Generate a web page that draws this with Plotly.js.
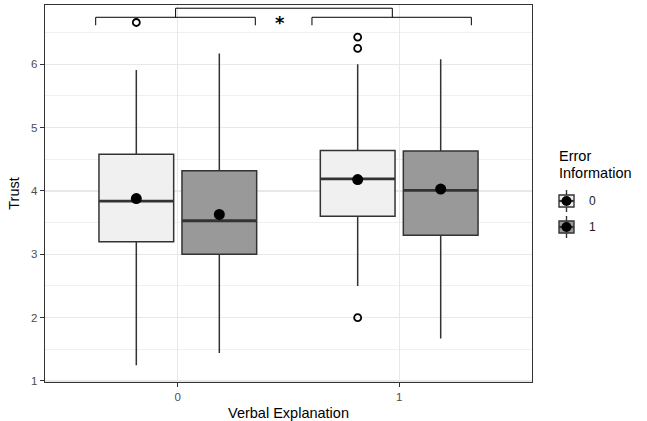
<!DOCTYPE html>
<html>
<head>
<meta charset="utf-8">
<script src="https://cdn.plot.ly/plotly-3.0.1.min.js"></script>
<style>html,body{margin:0;padding:0;background:#fff;}#chart{width:647px;height:421px;}</style>
</head>
<body>
<div id="chart"></div>
<script>
// ---- data ----
var categories = ['0', '1'];            // Verbal Explanation
var errorLevels = ['0', '1'];           // Error Information
var q1E0 = [3.20, 3.60];
var medE0 = [3.84, 4.19];
var q3E0 = [4.58, 4.64];
var loE0 = [1.25, 2.50];
var hiE0 = [5.91, 6.00];
var meanE0 = [3.88, 4.18];
var q1E1 = [3.00, 3.30];
var medE1 = [3.53, 4.01];
var q3E1 = [4.32, 4.63];
var loE1 = [1.44, 1.67];
var hiE1 = [6.17, 6.08];
var meanE1 = [3.63, 4.03];
var outCatE0 = [0, 1, 1, 1];
var outValE0 = [6.66, 6.43, 6.25, 2.00];
var outCatE1 = [];
var outValE1 = [];
// significance brackets (category units / Trust units)
var brX0 = [-0.371, 0.606, -0.01];
var brX1 = [0.350, 1.326, 0.969];
var brBar = [6.742, 6.742, 6.885];
var brTip = [6.616, 6.616, 6.742];
var sigLabel = '*';

// ---- styling constants ----
var dodge = [-0.1875, 0.1875];
var boxW = 0.3375;
var fills = ['#F0F0F0', '#999999'];
var lineCol = '#333333';

var stats = [
  {q1: q1E0, med: medE0, q3: q3E0, lo: loE0, hi: hiE0, mean: meanE0, oc: outCatE0, ov: outValE0},
  {q1: q1E1, med: medE1, q3: q3E1, lo: loE1, hi: hiE1, mean: meanE1, oc: outCatE1, ov: outValE1}
];

var traces = [];
stats.forEach(function (s, g) {
  var pos = categories.map(function (c, i) { return i + dodge[g]; });
  traces.push({
    type: 'box', x: pos, q1: s.q1, median: s.med, q3: s.q3,
    lowerfence: s.lo, upperfence: s.hi, width: boxW,
    fillcolor: fills[g], line: {color: lineCol, width: 1.5},
    whiskerwidth: 0, boxpoints: false, showlegend: false, hoverinfo: 'skip',
    name: errorLevels[g]
  });
  // thicker median lines
  var mx = [], my = [];
  pos.forEach(function (p, i) {
    mx.push(p - boxW / 2, p + boxW / 2, null);
    my.push(s.med[i], s.med[i], null);
  });
  traces.push({type: 'scatter', mode: 'lines', x: mx, y: my,
    line: {color: lineCol, width: 2.8}, showlegend: false, hoverinfo: 'skip'});
  // outliers
  traces.push({type: 'scatter', mode: 'markers',
    x: s.oc.map(function (c) { return c + dodge[g]; }), y: s.ov,
    marker: {symbol: 'circle-open', size: 7, color: '#000', line: {width: 1.8, color: '#000'}},
    showlegend: false, hoverinfo: 'skip'});
  // means
  traces.push({type: 'scatter', mode: 'markers', x: pos, y: s.mean,
    marker: {symbol: 'circle', size: 11, color: '#000'},
    showlegend: false, hoverinfo: 'skip'});
});

var shapes = [];
for (var i = 0; i < brX0.length; i++) {
  shapes.push({type: 'path', xref: 'x', yref: 'y',
    path: 'M' + brX0[i] + ',' + brTip[i] + ' L' + brX0[i] + ',' + brBar[i] +
          ' L' + brX1[i] + ',' + brBar[i] + ' L' + brX1[i] + ',' + brTip[i],
    line: {color: '#000', width: 1}});
}

// manual legend (ggplot style keys)
var L = {xpx: 566.5, ypx: [201, 227]};
var W = 647, H = 421, ml = 45, mr = 115, mt = 5, mb = 39;
function px2x(p) { return (p - ml) / (W - ml - mr); }
function py2y(p) { return (H - mb - p) / (H - mt - mb); }
var annotations = [
  {xref: 'paper', yref: 'paper', x: px2x(557), y: py2y(156), xanchor: 'left', yanchor: 'middle',
   text: 'Error', showarrow: false, font: {size: 14.5, color: '#000'}},
  {xref: 'paper', yref: 'paper', x: px2x(557), y: py2y(173), xanchor: 'left', yanchor: 'middle',
   text: 'Information', showarrow: false, font: {size: 14.5, color: '#000'}},
  {xref: 'x', yref: 'y', x: 0.463, y: 6.86, xanchor: 'center', yanchor: 'top',
   text: '<b>' + sigLabel + '</b>', showarrow: false, font: {size: 18, color: '#000', family: 'DejaVu Sans, sans-serif'}}
];
errorLevels.forEach(function (lab, g) {
  var cy = L.ypx[g];
  var ax = px2x(L.xpx), ay = py2y(cy);
  shapes.push({type: 'line', xref: 'paper', yref: 'paper', xsizemode: 'pixel', ysizemode: 'pixel',
    xanchor: ax, yanchor: ay, x0: 0, x1: 0, y0: -11, y1: 11, line: {color: lineCol, width: 1.4}});
  shapes.push({type: 'rect', xref: 'paper', yref: 'paper', xsizemode: 'pixel', ysizemode: 'pixel',
    xanchor: ax, yanchor: ay, x0: -7.5, x1: 7.5, y0: -6, y1: 6,
    fillcolor: fills[g], line: {color: lineCol, width: 1.4}});
  shapes.push({type: 'line', xref: 'paper', yref: 'paper', xsizemode: 'pixel', ysizemode: 'pixel',
    xanchor: ax, yanchor: ay, x0: -7.5, x1: 7.5, y0: 0, y1: 0, line: {color: lineCol, width: 2.2}});
  shapes.push({type: 'circle', xref: 'paper', yref: 'paper', xsizemode: 'pixel', ysizemode: 'pixel',
    xanchor: ax, yanchor: ay, x0: -5, x1: 5, y0: -5, y1: 5, fillcolor: '#000', line: {color: '#000', width: 0}});
  annotations.push({xref: 'paper', yref: 'paper', x: px2x(587), y: py2y(cy), xanchor: 'left', yanchor: 'middle',
    text: lab, showarrow: false, font: {size: 12, color: '#1a1a1a'}});
});

var layout = {
  width: W, height: H,
  margin: {l: ml, r: mr, t: mt, b: mb},
  paper_bgcolor: '#fff', plot_bgcolor: '#fff',
  font: {family: 'Liberation Sans, Arial, sans-serif', color: '#000'},
  showlegend: false,
  boxmode: 'overlay',
  xaxis: {
    range: [-0.6, 1.6], tickvals: [0, 1], ticktext: categories,
    ticks: 'outside', ticklen: 4, tickcolor: lineCol, tickwidth: 1,
    tickfont: {size: 11.5, color: '#4D4D4D'},
    showgrid: true, gridcolor: '#E8E8E8', gridwidth: 1.3, zeroline: false,
    showline: true, mirror: true, linecolor: lineCol, linewidth: 1.3,
    title: {text: 'Verbal Explanation', font: {size: 14.5, color: '#000'}, standoff: 6}
  },
  yaxis: {
    range: [0.984, 6.936], tickvals: [1, 2, 3, 4, 5, 6],
    ticks: 'outside', ticklen: 4, tickcolor: lineCol, tickwidth: 1,
    tickfont: {size: 11.5, color: '#4D4D4D'},
    showgrid: true, gridcolor: '#E8E8E8', gridwidth: 1.3, zeroline: false,
    minor: {tick0: 0.5, dtick: 1, showgrid: true, gridcolor: '#F0F0F0', gridwidth: 1, ticks: ''},
    showline: true, mirror: true, linecolor: lineCol, linewidth: 1.3,
    title: {text: 'Trust', font: {size: 14.5, color: '#000'}, standoff: 8}
  },
  shapes: shapes,
  annotations: annotations
};

Plotly.newPlot('chart', traces, layout, {staticPlot: true, displayModeBar: false});
</script>
</body>
</html>
